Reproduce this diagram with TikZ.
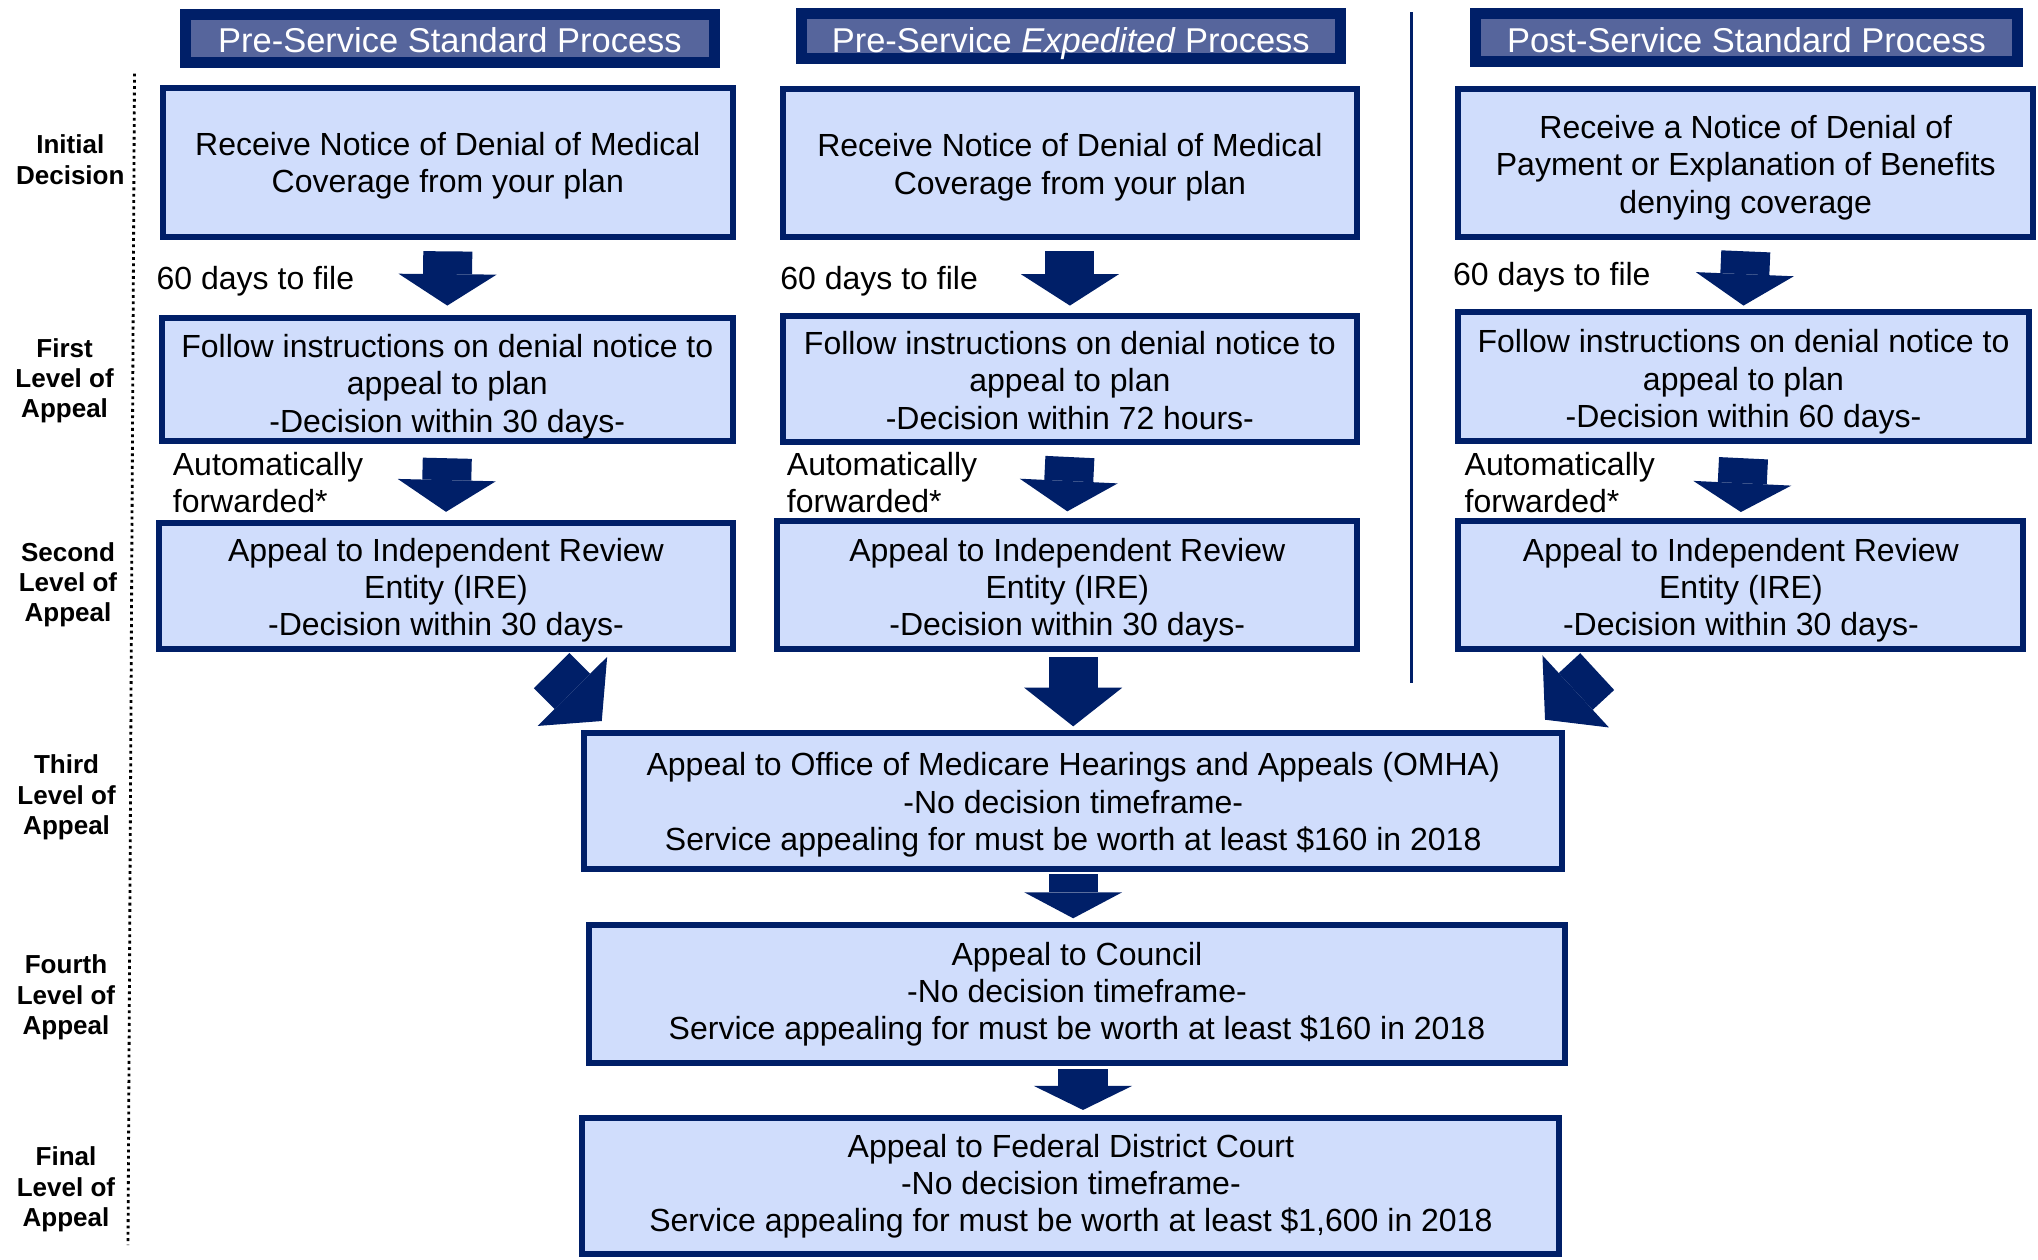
\documentclass[tikz,border=0pt]{standalone}
\usepackage{fontspec}
\setmainfont{Liberation Sans}
\usetikzlibrary{arrows.meta,calc}

\definecolor{navy}{RGB}{0,31,104}
\definecolor{slate}{RGB}{86,101,156}
\definecolor{paleblue}{RGB}{208,221,252}

\tikzset{
  head/.style={draw=navy,fill=slate,line width=0.11cm,text=white,inner sep=0pt,
    text height=#1,text depth=0.25pt,font=\fontsize{9.8}{11}\selectfont},
  box/.style={draw=navy,fill=paleblue,line width=0.06cm,inner sep=0pt,align=center,
    text height=#1,text depth=1.92pt,font=\fontsize{9.1}{10.6}\selectfont},
  box/.default=30.6pt,
  level/.style={align=center,inner sep=0pt,font=\fontsize{7.4}{8.6}\selectfont\bfseries},
  note/.style={inner sep=0pt,align=left,font=\fontsize{9.1}{10.6}\selectfont},
  fat/.style={navy,line width=0.49cm,-{Triangle[length=#1,width=0.98cm,line width=0pt]}}
}

\begin{document}
\begin{tikzpicture}[x=0.01cm,y=-0.01cm]

\useasboundingbox (0,0) rectangle (2038,1259);

\coordinate (dottop) at (134.5,73.5);
\coordinate (dotbot) at (128,1245);
\coordinate (divtop) at (1411.5,12);
\coordinate (divbot) at (1411.5,683);

\draw[densely dotted,line width=0.8pt] (dottop) -- (dotbot);
\draw[navy,line width=0.026cm] (divtop) -- (divbot);

% headers
\node[head=8pt,minimum width=5.29cm,minimum height=0.476cm] (head1) at (450,38.6) {Pre-Service Standard Process};
\node[head=9.47pt,minimum width=5.385cm,minimum height=0.45cm] (head2) at (1070.75,36) {Pre-Service \textit{Expedited} Process};
\node[head=8.55pt,minimum width=5.42cm,minimum height=0.483cm] (head3) at (1746.5,37.6) {Post-Service Standard Process};

% levels
\node[level] (lvinit) at (70.3,159.7) {Initial\\Decision};
\node[level] (lvfirst) at (64.6,380.7) {First\\Level of\\Appeal};
\node[level] (lvsecond) at (68,584.7) {Second\\Level of\\Appeal};
\node[level] (lvthird) at (66.6,797.4) {Third\\Level of\\Appeal};
\node[level] (lvfourth) at (66,997.3) {Fourth\\Level of\\Appeal};
\node[level] (lvfinal) at (66,1189.3) {Final\\Level of\\Appeal};

% pre-service standard
\node[box=19.1pt,minimum width=5.695cm,minimum height=1.49cm] (init1) at (447.8,162.5)
  {Receive Notice of Denial of Medical\\Coverage from your plan};
\node[box=32pt,minimum width=5.705cm,minimum height=1.234cm] (first1) at (447.3,379.3)
  {Follow instructions on denial notice to\\appeal to plan\\-Decision within 30 days-};
\node[box=30.3pt,minimum width=5.73cm,minimum height=1.257cm] (second1) at (446,586)
  {Appeal to Independent Review\\Entity (IRE)\\-Decision within 30 days-};

% pre-service expedited
\node[box=19.8pt,minimum width=5.743cm,minimum height=1.484cm] (init2) at (1069.9,162.8)
  {Receive Notice of Denial of Medical\\Coverage from your plan};
\node[box,minimum width=5.743cm,minimum height=1.262cm] (first2) at (1069.9,378.7)
  {Follow instructions on denial notice to\\appeal to plan\\-Decision within 72 hours-};
\node[box,minimum width=5.795cm,minimum height=1.277cm] (second2) at (1067.3,585.2)
  {Appeal to Independent Review\\Entity (IRE)\\-Decision within 30 days-};

% post-service standard
\node[box,minimum width=5.744cm,minimum height=1.484cm] (init3) at (1745.8,162.8)
  {Receive a Notice of Denial of\\Payment or Explanation of Benefits\\denying coverage};
\node[box=30.8pt,minimum width=5.697cm,minimum height=1.286cm] (first3) at (1743.5,376.7)
  {Follow instructions on denial notice to\\appeal to plan\\-Decision within 60 days-};
\node[box,minimum width=5.646cm,minimum height=1.277cm] (second3) at (1740.9,585.2)
  {Appeal to Independent Review\\Entity (IRE)\\-Decision within 30 days-};

% common levels
\node[box=30.1pt,minimum width=9.773cm,minimum height=1.363cm] (third) at (1073.2,800.8)
  {Appeal to Office of Medicare Hearings and Appeals (OMHA)\\-No decision timeframe-\\Service appealing for must be worth at least \$160 in 2018};
\node[box=27.84pt,minimum width=9.76cm,minimum height=1.38cm] (fourth) at (1077,994)
  {Appeal to Council\\-No decision timeframe-\\Service appealing for must be worth at least \$160 in 2018};
\node[box=27.84pt,minimum width=9.766cm,minimum height=1.36cm] (final) at (1070.9,1186)
  {Appeal to Federal District Court\\-No decision timeframe-\\Service appealing for must be worth at least \$1,600 in 2018};

% notes
\node[note,anchor=base west] (file1) at (156,289.3) {60 days to file};
\node[note,anchor=base west] (file2) at (779.7,289.3) {60 days to file};
\node[note,anchor=base west] (file3) at (1452.4,285.3) {60 days to file};
\node[note,anchor=west] (fwd1) at (172.2,482.7) {Automatically\\forwarded*};
\node[note,anchor=west] (fwd2) at (786.2,482.7) {Automatically\\forwarded*};
\node[note,anchor=west] (fwd3) at (1464,482.7) {Automatically\\forwarded*};

% arrows
\draw[fat=0.314cm] ($(init1.south)+(0,11.3)$) -- ($(first1.north)+(0,-9)$);
\draw[fat=0.317cm] ($(first1.south)+(0,14.2)$) -- ($(second1.north)+(0,-8.3)$);
\draw[fat=0.314cm] ($(init2.south)+(0,11.3)$) -- ($(first2.north)+(0,-7)$);
\draw[fat=0.303cm] ($(first2.south)+(0,12.2)$) -- ($(second2.north)+(0,-7)$);
\draw[fat=0.314cm] ($(init3.south)+(0,11.3)$) -- ($(first3.north)+(0,-3.8)$);
\draw[fat=0.288cm] ($(first3.south)+(0,14.2)$) -- ($(second3.north)+(0,-6.3)$);

\draw[fat=0.417cm,line width=0.5cm] ($(second1.south)+(105.7,18.7)$) -- ($(third.north west)+(20.5,-8.6)$);
\draw[fat=0.386cm] ($(second2.south -| third.north)+(0,5)$) -- ($(third.north)+(0,-3.3)$);
\draw[fat=0.417cm,line width=0.5cm] ($(second3.south)+(-143.7,19.5)$) -- ($(third.north east)+(-20.1,-9.9)$);

\draw[fat=0.26cm] ($(third.south)+(0,2)$) -- ($(third.south |- fourth.north)+(0,-3.7)$);
\draw[fat=0.24cm] ($(fourth.south)+(6,3)$) -- ($(fourth.south |- final.north)+(6,-5)$);

\end{tikzpicture}
\end{document}
